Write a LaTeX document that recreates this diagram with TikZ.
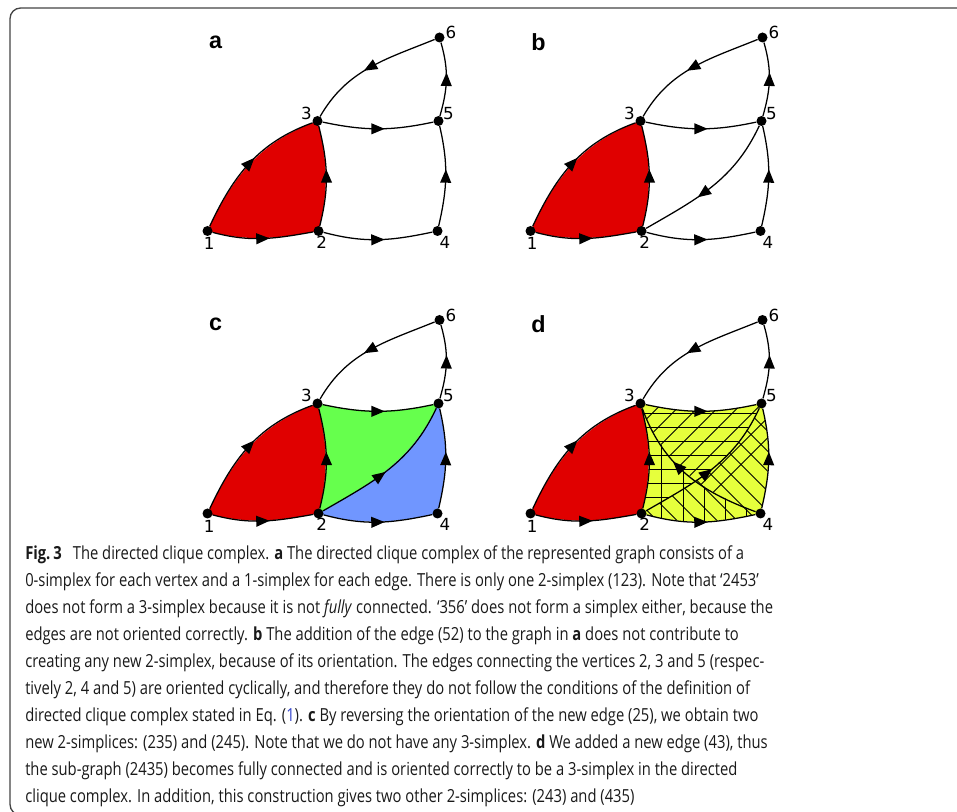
\documentclass[tikz,border=0pt]{standalone}
\usepackage{fontspec}
\usetikzlibrary{arrows.meta,decorations.markings}
\newfontfamily\numfont{DejaVu Sans}
\newfontfamily\lblfont{Liberation Sans}
\newfontfamily\capfont[FakeStretch=0.82]{Open Sans}
\definecolor{redf}{HTML}{E00000}
\definecolor{greenf}{HTML}{66FF4D}
\definecolor{bluef}{HTML}{7096FF}
\definecolor{yellowf}{HTML}{E6FF3C}
\definecolor{framec}{HTML}{444444}
\definecolor{refblue}{HTML}{3344CC}
\pgfdeclarelayer{bg}\pgfsetlayers{bg,main}
\tikzset{
  dot/.style={circle,fill=black,inner sep=0pt,minimum size=7.5pt},
  num/.style={font=\numfont\fontsize{12.5}{12.5}\selectfont,inner sep=0pt},
  plbl/.style={font=\lblfont\bfseries\fontsize{17.5}{17.5}\selectfont,inner sep=0pt},
  edge/.style={line width=0.95pt,postaction={decorate},
    decoration={markings,mark=at position #1 with {\fill (5pt,0pt) -- (-5pt,4.2pt) -- (-5pt,-4.2pt) -- cycle;}}},
  edge/.default=0.5,
  hatch/.style={line width=0.75pt},
  diag/.style={out=245,in=30},
  diagr/.style={out=30,in=245},
}
\newcommand\vertices[2]{%
  \node[dot] (#1v1) at (207.5,-231) {};
  \node[dot] (#1v2) at (318.5,-231) {};
  \node[dot] (#1v3) at (317.5,-121) {};
  \node[dot] (#1v4) at (437.5,-231) {};
  \node[dot] (#1v5) at (438.5,-121) {};
  \node[dot] (#1v6) at (439.5,-37.5) {};
  \node[num] (#1n1) at (209.2,-243.5) {1};
  \node[num] (#1n2) at (321.7,-242) {2};
  \node[num] (#1n3) at (306.5,-113.3) {3};
  \node[num] (#1n4) at (445,-242) {4};
  \node[num] (#1n5) at (448.5,-113.3) {5};
  \node[num] (#1n6) at (451,-32.5) {6};
  \node[plbl] (#1lbl) at (215.5,-42) {#2};
}
\newcommand\commonedges[1]{%
  \draw[edge] (#1v1) to[out=-15,in=190] (#1v2);
  \draw[edge] (#1v2) to[out=-15,in=192] (#1v4);
  \draw[edge] (#1v1) to[out=65,in=200] (#1v3);
  \draw[edge] (#1v2) to[out=76,in=-76] (#1v3);
  \draw[edge] (#1v4) to[out=77,in=-77] (#1v5);
  \draw[edge] (#1v3) to[out=-12,in=192] (#1v5);
  \draw[edge] (#1v5) to[out=74,in=-74] (#1v6);
  \draw[edge] (#1v6) to[out=202,in=60] (#1v3);
  \begin{pgfonlayer}{bg}
    \fill[redf] (#1v1.center) to[out=-15,in=190] (#1v2.center) to[out=76,in=-76] (#1v3.center) to[out=200,in=65] (#1v1.center) -- cycle;
  \end{pgfonlayer}
}
\begin{document}
\begin{tikzpicture}[x=0.75pt,y=0.75pt]
\useasboundingbox (0,0) rectangle (957,-812);
\draw[framec,line width=1pt,rounded corners=8] (965,-8) -- (10,-8) -- (10,-815) -- (60,-815);

% panel a
\begin{scope}
  \vertices{a}{a}
  \commonedges{a}
\end{scope}

% panel b
\begin{scope}[shift={(323,0)}]
  \vertices{b}{b}
  \commonedges{b}
  \draw[edge=0.57] (bv5) to[diag] (bv2);
\end{scope}

% panel c
\begin{scope}[shift={(0,-282.5)}]
  \vertices{c}{c}
  \commonedges{c}
  \draw[edge=0.43] (cv2) to[diagr] (cv5);
  \begin{pgfonlayer}{bg}
    \fill[greenf] (cv2.center) to[out=76,in=-76] (cv3.center) to[out=-12,in=192] (cv5.center) to[diag] (cv2.center) -- cycle;
    \fill[bluef] (cv2.center) to[out=-15,in=192] (cv4.center) to[out=77,in=-77] (cv5.center) to[diag] (cv2.center) -- cycle;
  \end{pgfonlayer}
\end{scope}

% panel d
\begin{scope}[shift={(323,-282.5)}]
  \vertices{d}{d}
  \commonedges{d}
  \draw[edge=0.46] (dv2) to[diagr] (dv5);
  \draw[edge=0.57] (dv4) to[out=160,in=-70] (dv3);
  \begin{pgfonlayer}{bg}
    \fill[yellowf] (dv2.center) to[out=-15,in=192] (dv4.center) to[out=77,in=-77] (dv5.center) to[out=192,in=-12] (dv3.center) to[out=-76,in=76] (dv2.center) -- cycle;
    % face 235: horizontal
    \begin{scope}
      \clip (dv2.center) to[out=76,in=-76] (dv3.center) to[out=-12,in=192] (dv5.center) to[diag] (dv2.center) -- cycle;
      \foreach \y in {116.8,130.8,...,240} \draw[hatch] (300,-\y) -- (460,-\y);
    \end{scope}
    % face 243: vertical
    \begin{scope}
      \clip (dv2.center) to[out=-15,in=192] (dv4.center) to[out=160,in=-70] (dv3.center) to[out=-76,in=76] (dv2.center) -- cycle;
      \foreach \x in {338.7,360,...,440} \draw[hatch] (\x,-100) -- (\x,-250);
    \end{scope}
    % face 435: slash
    \begin{scope}
      \clip (dv4.center) to[out=160,in=-70] (dv3.center) to[out=-12,in=192] (dv5.center) to[out=-77,in=77] (dv4.center) -- cycle;
      \foreach \c in {-600,-580,...,-360} \draw[hatch] (300,300+\c) -- (460,460+\c);
    \end{scope}
    % face 245: backslash
    \begin{scope}
      \clip (dv2.center) to[out=-15,in=192] (dv4.center) to[out=77,in=-77] (dv5.center) to[diag] (dv2.center) -- cycle;
      \foreach \c in {56,76,...,300} \draw[hatch] (300,\c-300) -- (460,\c-460);
    \end{scope}
  \end{pgfonlayer}
\end{scope}

\node[anchor=north west,inner sep=0pt,align=left,text=black!90,
  font=\capfont\fontsize{13.5}{20.3}\selectfont] (cap) at (25,-545) {%
\textbf{Fig.\,3}\hspace{0.4em} The directed clique complex. \textbf{a} The directed clique complex of the represented graph consists of a\\
0-simplex for each vertex and a 1-simplex for each edge. There is only one 2-simplex (123). Note that ‘2453’\\
does not form a 3-simplex because it is not \textit{fully} connected. ‘356’ does not form a simplex either, because the\\
edges are not oriented correctly. \textbf{b} The addition of the edge (52) to the graph in \textbf{a} does not contribute to\\
creating any new 2-simplex, because of its orientation. The edges connecting the vertices 2, 3 and 5 (respec-\\
tively 2, 4 and 5) are oriented cyclically, and therefore they do not follow the conditions of the definition of\\
directed clique complex stated in Eq. ({\color{refblue}1}). \textbf{c} By reversing the orientation of the new edge (25), we obtain two\\
new 2-simplices: (235) and (245). Note that we do not have any 3-simplex. \textbf{d} We added a new edge (43), thus\\
the sub-graph (2435) becomes fully connected and is oriented correctly to be a 3-simplex in the directed\\
clique complex. In addition, this construction gives two other 2-simplices: (243) and (435)};
\end{tikzpicture}
\end{document}
